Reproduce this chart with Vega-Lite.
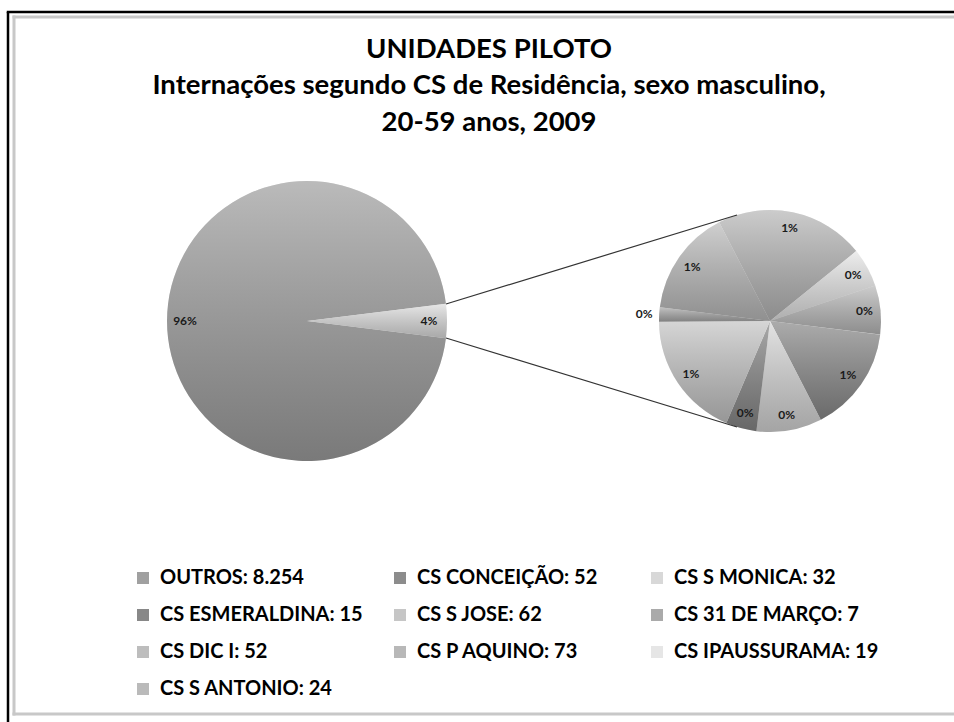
{
  "$schema": "https://vega.github.io/schema/vega-lite/v6.json",
  "width": 946,
  "height": 710,
  "autosize": {"type": "none"},
  "padding": {"left": 8, "top": 12, "right": 0, "bottom": 0},
  "background": "white",
  "title": {
    "text": ["UNIDADES PILOTO", "Internações segundo CS de Residência, sexo masculino,", "20-59 anos, 2009"],
    "font": "Lato",
    "fontSize": 27.5,
    "fontWeight": "bold",
    "color": "#000000",
    "lineHeight": 36.5,
    "anchor": "middle",
    "frame": "group",
    "offset": -125.5,
    "dx": 8
  },
  "datasets": {
    "principal": [
      {"nome": "Outros", "rotulo": "OUTROS: 8.254", "valor": 8254, "pct": "96%", "ordem": 1},
      {"nome": "Demais CS", "rotulo": "Demais CS", "valor": 336, "pct": "4%", "ordem": 2}
    ],
    "detalhe": [
      {"nome": "CS Conceição", "rotulo": "CS CONCEIÇÃO: 52", "valor": 52, "pct": "1%", "ordem": 1},
      {"nome": "CS S Monica", "rotulo": "CS S MONICA: 32", "valor": 32, "pct": "0%", "ordem": 2},
      {"nome": "CS Esmeraldina", "rotulo": "CS ESMERALDINA: 15", "valor": 15, "pct": "0%", "ordem": 3},
      {"nome": "CS S Jose", "rotulo": "CS S JOSE: 62", "valor": 62, "pct": "1%", "ordem": 4},
      {"nome": "CS 31 de Março", "rotulo": "CS 31 DE MARÇO: 7", "valor": 7, "pct": "0%", "ordem": 5},
      {"nome": "CS DIC I", "rotulo": "CS DIC I: 52", "valor": 52, "pct": "1%", "ordem": 6},
      {"nome": "CS P Aquino", "rotulo": "CS P AQUINO: 73", "valor": 73, "pct": "1%", "ordem": 7},
      {"nome": "CS Ipaussurama", "rotulo": "CS IPAUSSURAMA: 19", "valor": 19, "pct": "0%", "ordem": 8},
      {"nome": "CS S Antonio", "rotulo": "CS S ANTONIO: 24", "valor": 24, "pct": "0%", "ordem": 9}
    ],
    "um": [{}]
  },
  "layer": [
    {
      "data": {"name": "um"},
      "mark": {"type": "rule", "color": "#000000", "strokeWidth": 2.5},
      "encoding": {"x": {"value": 0}, "y": {"value": 0}, "x2": {"value": 0}, "y2": {"value": 710}}
    },
    {
      "data": {"name": "um"},
      "mark": {"type": "rule", "color": "#000000", "strokeWidth": 2.5},
      "encoding": {"x": {"value": -1.25}, "y": {"value": 0}, "x2": {"value": 946}, "y2": {"value": 0}}
    },
    {
      "data": {"name": "um"},
      "mark": {"type": "rule", "color": "#c8c8c8", "strokeWidth": 3},
      "encoding": {"x": {"value": 6}, "y": {"value": 3.5}, "x2": {"value": 6}, "y2": {"value": 703.5}}
    },
    {
      "data": {"name": "um"},
      "mark": {"type": "rule", "color": "#c8c8c8", "strokeWidth": 3},
      "encoding": {"x": {"value": 4.5}, "y": {"value": 5}, "x2": {"value": 946}, "y2": {"value": 5}}
    },
    {
      "data": {"name": "um"},
      "mark": {"type": "rule", "color": "#c8c8c8", "strokeWidth": 3},
      "encoding": {"x": {"value": 4.5}, "y": {"value": 702}, "x2": {"value": 946}, "y2": {"value": 702}}
    },
    {
      "data": {"name": "principal"},
      "mark": {"type": "arc", "x": 299, "y": 309, "radius": 140},
      "encoding": {
        "theta": {"field": "valor", "type": "quantitative", "stack": true, "scale": {"range": [1.694, 7.977]}},
        "order": {"field": "ordem", "type": "quantitative"},
        "color": {
          "field": "rotulo",
          "type": "nominal",
          "scale": {
            "domain": ["OUTROS: 8.254", "CS CONCEIÇÃO: 52", "CS S MONICA: 32", "CS ESMERALDINA: 15", "CS S JOSE: 62", "CS 31 DE MARÇO: 7", "CS DIC I: 52", "CS P AQUINO: 73", "CS IPAUSSURAMA: 19", "CS S ANTONIO: 24", "Demais CS"],
            "range": ["#a0a0a0", "#8c8c8c", "#d8d8d8", "#888888", "#c6c6c6", "#aaaaaa", "#bdbdbd", "#b8b8b8", "#e6e6e6", "#bababa", "#dedede"]
          },
          "legend": {
            "values": ["OUTROS: 8.254", "CS CONCEIÇÃO: 52", "CS S MONICA: 32", "CS ESMERALDINA: 15", "CS S JOSE: 62", "CS 31 DE MARÇO: 7", "CS DIC I: 52", "CS P AQUINO: 73", "CS IPAUSSURAMA: 19", "CS S ANTONIO: 24"],
            "title": null,
            "orient": "none",
            "direction": "horizontal",
            "legendX": 125,
            "legendY": 556,
            "columns": 3,
            "symbolType": "square",
            "symbolSize": 144,
            "symbolStrokeWidth": 0,
            "labelFont": "Lato",
            "labelFontSize": 20,
            "labelFontWeight": "bold",
            "labelColor": "#000000",
            "labelLimit": 400,
            "labelOffset": 7,
            "rowPadding": 17,
            "columnPadding": 25,
            "gridAlign": "all"
          }
        }
      }
    },
    {
      "data": {"name": "principal"},
      "mark": {
        "type": "arc", "x": 299, "y": 309, "radius": 140,
        "fill": {"gradient": "linear", "x1": 0, "y1": 0, "x2": 0, "y2": 1, "stops": [{"offset": 0, "color": "rgba(255,255,255,0.28)"}, {"offset": 1, "color": "rgba(0,0,0,0.24)"}]}
      },
      "encoding": {
        "theta": {"field": "valor", "type": "quantitative", "stack": true, "scale": {"range": [1.694, 7.977]}},
        "order": {"field": "ordem", "type": "quantitative"},
        "detail": {"field": "rotulo", "type": "nominal"}
      }
    },
    {
      "data": {"name": "principal"},
      "mark": {"type": "text", "x": 299, "y": 309, "radius": 122, "font": "Lato", "fontSize": 12, "fontWeight": "bold", "color": "#1a1a1a"},
      "encoding": {
        "theta": {"field": "valor", "type": "quantitative", "stack": true, "scale": {"range": [1.694, 7.977]}},
        "order": {"field": "ordem", "type": "quantitative"},
        "detail": {"field": "rotulo", "type": "nominal"},
        "text": {"field": "pct", "type": "nominal"}
      }
    },
    {
      "data": {"name": "detalhe"},
      "mark": {"type": "arc", "x": 762, "y": 309, "radius": 111},
      "encoding": {
        "theta": {"field": "valor", "type": "quantitative", "stack": true, "scale": {"range": [1.694, 7.977]}},
        "order": {"field": "ordem", "type": "quantitative"},
        "color": {"field": "rotulo", "type": "nominal"}
      }
    },
    {
      "data": {"name": "detalhe"},
      "mark": {
        "type": "arc", "x": 762, "y": 309, "radius": 111,
        "fill": {"gradient": "linear", "x1": 0, "y1": 0, "x2": 0, "y2": 1, "stops": [{"offset": 0, "color": "rgba(255,255,255,0.28)"}, {"offset": 1, "color": "rgba(0,0,0,0.24)"}]}
      },
      "encoding": {
        "theta": {"field": "valor", "type": "quantitative", "stack": true, "scale": {"range": [1.694, 7.977]}},
        "order": {"field": "ordem", "type": "quantitative"},
        "detail": {"field": "rotulo", "type": "nominal"}
      }
    },
    {
      "data": {"name": "detalhe"},
      "mark": {"type": "text", "x": 762, "y": 309, "radius": 95, "font": "Lato", "fontSize": 12, "fontWeight": "bold", "color": "#1a1a1a"},
      "encoding": {
        "theta": {"field": "valor", "type": "quantitative", "stack": true, "scale": {"range": [1.694, 7.977]}},
        "order": {"field": "ordem", "type": "quantitative"},
        "detail": {"field": "rotulo", "type": "nominal"},
        "text": {"condition": {"test": "datum.nome === 'CS 31 de Março'", "value": ""}, "field": "pct", "type": "nominal"}
      }
    },
    {
      "data": {"name": "detalhe"},
      "mark": {"type": "text", "x": 762, "y": 309, "radius": 126, "font": "Lato", "fontSize": 12, "fontWeight": "bold", "color": "#1a1a1a"},
      "encoding": {
        "theta": {"field": "valor", "type": "quantitative", "stack": true, "scale": {"range": [1.694, 7.977]}},
        "order": {"field": "ordem", "type": "quantitative"},
        "detail": {"field": "rotulo", "type": "nominal"},
        "text": {"condition": {"test": "datum.nome !== 'CS 31 de Março'", "value": ""}, "field": "pct", "type": "nominal"}
      }
    },
    {
      "data": {"name": "um"},
      "mark": {"type": "rule", "color": "#333333", "strokeWidth": 1.2},
      "encoding": {"x": {"value": 438}, "y": {"value": 292}, "x2": {"value": 729}, "y2": {"value": 203}}
    },
    {
      "data": {"name": "um"},
      "mark": {"type": "rule", "color": "#333333", "strokeWidth": 1.2},
      "encoding": {"x": {"value": 438}, "y": {"value": 326}, "x2": {"value": 729}, "y2": {"value": 415}}
    }
  ],
  "resolve": {"scale": {"theta": "independent"}},
  "config": {
    "view": {"stroke": null}
  }
}
